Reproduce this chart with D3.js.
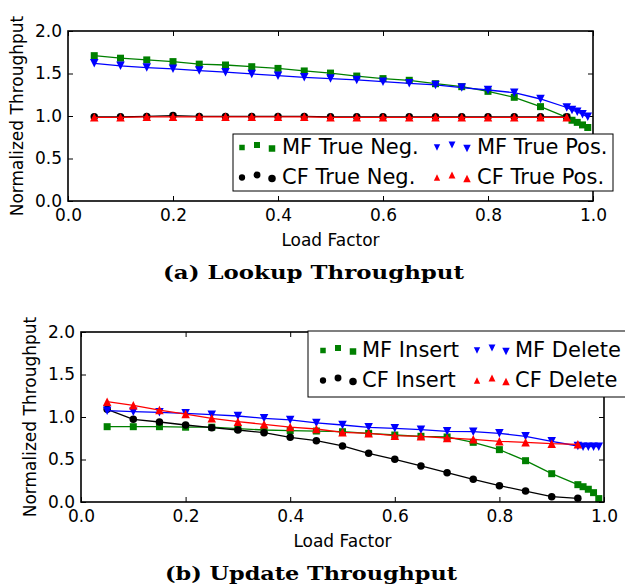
<!DOCTYPE html>
<html>
<head>
<meta charset="utf-8">
<script src="https://cdn.jsdelivr.net/npm/d3@7"></script>
<style>
  html, body { margin: 0; padding: 0; background: #fff; }
  svg { display: block; }
  text { font-family: "DejaVu Sans", sans-serif; fill: #000; }
</style>
</head>
<body>
<svg id="chart" width="625" height="588"></svg>
<script>
// ---------- data ----------
const loadFull = [0.05,0.10,0.15,0.20,0.25,0.30,0.35,0.40,0.45,0.50,0.55,0.60,0.65,0.70,0.75,0.80,0.85,0.90,0.95,0.96,0.97,0.98,0.99];
const loadCF   = [0.05,0.10,0.15,0.20,0.25,0.30,0.35,0.40,0.45,0.50,0.55,0.60,0.65,0.70,0.75,0.80,0.85,0.90,0.95];

// (a) Lookup throughput
const mfTrueNeg = [1.71,1.68,1.66,1.64,1.61,1.60,1.58,1.56,1.53,1.505,1.47,1.44,1.42,1.38,1.345,1.29,1.22,1.11,0.985,0.95,0.925,0.895,0.865];
const mfTruePos = [1.62,1.59,1.57,1.555,1.535,1.515,1.495,1.475,1.455,1.44,1.424,1.404,1.384,1.365,1.335,1.306,1.274,1.20,1.10,1.07,1.05,1.02,0.99];
const cfTrueNeg = [0.99,0.99,0.995,1.005,0.995,0.995,0.995,0.995,0.995,0.99,0.99,0.99,0.99,0.99,0.99,0.99,0.99,0.99,0.99];
const cfTruePos = [0.985,0.985,0.99,0.99,0.99,0.99,0.99,0.99,0.99,0.985,0.985,0.985,0.985,0.985,0.985,0.985,0.985,0.985,0.985];

// (b) Update throughput
const mfInsert = [0.886,0.886,0.886,0.88,0.88,0.863,0.847,0.84,0.835,0.827,0.808,0.788,0.773,0.765,0.702,0.616,0.486,0.333,0.204,0.18,0.15,0.11,0.04];
const cfInsert = [1.09,0.973,0.941,0.906,0.875,0.847,0.816,0.761,0.722,0.659,0.573,0.502,0.424,0.345,0.267,0.192,0.129,0.063,0.043];
const mfDelete = [1.075,1.063,1.055,1.043,1.027,1.012,0.984,0.965,0.93,0.906,0.878,0.867,0.851,0.831,0.827,0.808,0.773,0.714,0.659,0.651,0.651,0.651,0.651];
const cfDelete = [1.18,1.137,1.082,1.035,0.984,0.945,0.914,0.882,0.859,0.82,0.808,0.78,0.773,0.753,0.737,0.714,0.702,0.686,0.678];

const xTicks = [0.0,0.2,0.4,0.6,0.8,1.0];
const yTicks = [0.0,0.5,1.0,1.5,2.0];

const xLabel = "Load Factor";
const yLabel = "Normalized Throughput";
const captionA = "(a) Lookup Throughput";
const captionB = "(b) Update Throughput";

const lookupSeries = [
  {name:"MF True Neg.", x:loadFull, y:mfTrueNeg, color:"#008000", marker:"square"},
  {name:"CF True Neg.", x:loadCF,   y:cfTrueNeg, color:"#000000", marker:"circle"},
  {name:"MF True Pos.", x:loadFull, y:mfTruePos, color:"#0000ff", marker:"tridown"},
  {name:"CF True Pos.", x:loadCF,   y:cfTruePos, color:"#ff0000", marker:"triup"}
];
const updateSeries = [
  {name:"MF Insert", x:loadFull, y:mfInsert, color:"#008000", marker:"square"},
  {name:"CF Insert", x:loadCF,   y:cfInsert, color:"#000000", marker:"circle"},
  {name:"MF Delete", x:loadFull, y:mfDelete, color:"#0000ff", marker:"tridown"},
  {name:"CF Delete", x:loadCF,   y:cfDelete, color:"#ff0000", marker:"triup"}
];

// ---------- drawing ----------
const svg = d3.select("#chart");

function markerPath(type, s) {
  const h = s / 2;
  switch (type) {
    case "square": return `M${-h},${-h}H${h}V${h}H${-h}Z`;
    case "circle": return `M${h},0A${h},${h},0,1,1,${-h},0A${h},${h},0,1,1,${h},0Z`;
    case "triup":  return `M0,${-h}L${h},${h}L${-h},${h}Z`;
    case "tridown":return `M0,${h}L${h},${-h}L${-h},${-h}Z`;
  }
}
const markerSize = {square:7, circle:7.5, triup:8.5, tridown:8.5};

function panel(cfg) {
  const {left, right, top, bottom, series, ylabX, caption, captionLen, legend} = cfg;
  const x = d3.scaleLinear().domain([0,1]).range([left,right]);
  const y = d3.scaleLinear().domain([0,2]).range([bottom,top]);
  const g = svg.append("g");

  // axes with inward ticks
  const fs = "17px";
  const ax = g.append("g").attr("transform",`translate(0,${bottom})`)
    .call(d3.axisBottom(x).tickValues(xTicks).tickFormat(d3.format(".1f")).tickSizeInner(-5).tickSizeOuter(0).tickPadding(8));
  const ay = g.append("g").attr("transform",`translate(${left},0)`)
    .call(d3.axisLeft(y).tickValues(yTicks).tickFormat(d3.format(".1f")).tickSizeInner(-5).tickSizeOuter(0).tickPadding(6));
  const at = g.append("g").attr("transform",`translate(0,${top})`)
    .call(d3.axisTop(x).tickValues(xTicks).tickFormat("").tickSizeInner(-5).tickSizeOuter(0));
  const ar = g.append("g").attr("transform",`translate(${right},0)`)
    .call(d3.axisRight(y).tickValues(yTicks).tickFormat("").tickSizeInner(-5).tickSizeOuter(0));
  [ax,ay,at,ar].forEach(a => {
    a.select(".domain").remove();
    a.selectAll(".tick line").attr("stroke","#000").attr("stroke-width",1);
    a.selectAll("text").style("font-size",fs).style("font-family","DejaVu Sans").attr("fill","#000");
  });

  // series
  const line = d3.line();
  series.forEach(s => {
    const pts = s.x.map((v,i) => [x(v), y(s.y[i])]);
    g.append("path").attr("d", line(pts)).attr("fill","none")
      .attr("stroke", s.color).attr("stroke-width",1.3);
    g.append("g").selectAll("path").data(pts).join("path")
      .attr("transform", d => `translate(${d[0]},${d[1]})`)
      .attr("d", markerPath(s.marker, markerSize[s.marker]))
      .attr("fill", s.color);
  });

  // frame
  g.append("rect").attr("x",left).attr("y",top).attr("width",right-left).attr("height",bottom-top)
    .attr("fill","none").attr("stroke","#000").attr("stroke-width",1.6);

  // legend
  const L = legend;
  const lg = svg.append("g");
  lg.append("rect").attr("x",L.x0).attr("y",L.y0).attr("width",L.x1-L.x0).attr("height",L.y1-L.y0)
    .attr("fill","#fff").attr("stroke","#000").attr("stroke-width",1);
  const yoff = [1.5, -1, 2.5];
  const lsizes = [5.5, 6, 6.5];
  // column-wise order: col1 = series 0,1 ; col2 = series 2,3
  series.forEach((s,i) => {
    const col = Math.floor(i/2), row = i % 2;
    const mx = L.cols[col], ty = L.rows[row];
    mx.forEach((px,k) => {
      lg.append("path").attr("transform",`translate(${px},${ty + yoff[k]})`)
        .attr("d", markerPath(s.marker, lsizes[k] * (s.marker==="square"?1:1.15)))
        .attr("fill", s.color);
    });
    lg.append("text").attr("x", L.textX[col]).attr("y", ty).attr("dy","0.36em")
      .style("font-size","21px").text(s.name);
  });

  // labels
  svg.append("text").attr("x",(left+right)/2).attr("y",bottom+45).attr("text-anchor","middle")
    .style("font-size","17px").text(xLabel);
  svg.append("text").attr("transform",`translate(${ylabX},${(top+bottom)/2}) rotate(-90)`)
    .attr("text-anchor","middle").attr("dy","0.35em").style("font-size","17px").text(yLabel);
  svg.append("text").attr("x",caption.x).attr("y",caption.y)
    .attr("textLength",captionLen).attr("lengthAdjust","spacingAndGlyphs")
    .style("font-family","'DejaVu Serif', serif").style("font-weight","bold").style("font-size","19px")
    .text(caption.text);
}

panel({
  left:68, right:593, top:31, bottom:201, series:lookupSeries, ylabX:17,
  caption:{x:163, y:279, text:captionA}, captionLen:301,
  legend:{x0:233, x1:613, y0:134, y1:191, rows:[146,176],
          cols:[[242,257,272],[437,452,467]], textX:[282,477]}
});
panel({
  left:81, right:604, top:332, bottom:502, series:updateSeries, ylabX:30,
  caption:{x:165, y:580, text:captionB}, captionLen:292,
  legend:{x0:308, x1:640, y0:331, y1:397, rows:[349,379],
          cols:[[323,338,353],[477,492,506]], textX:[362,515]}
});
</script>
</body>
</html>
